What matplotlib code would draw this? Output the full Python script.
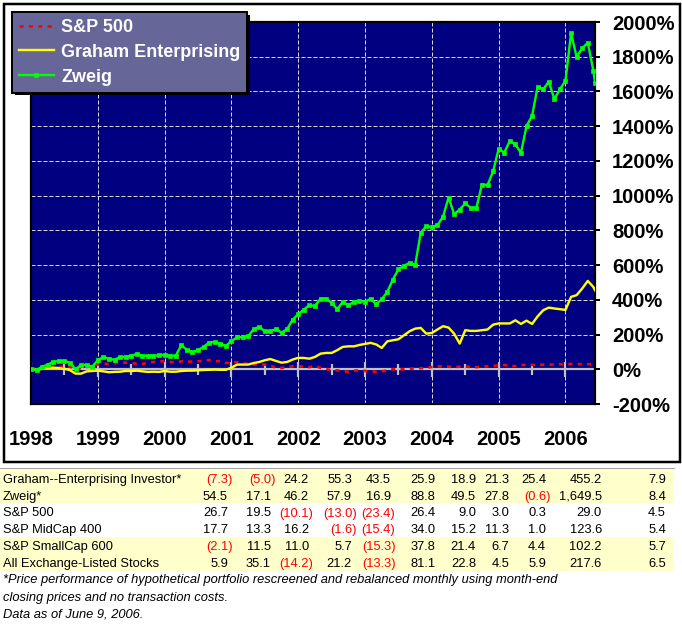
import numpy as np
import matplotlib
matplotlib.use('Agg')
import matplotlib.pyplot as plt
from matplotlib.patches import Rectangle
from matplotlib.lines import Line2D
from matplotlib.transforms import IdentityTransform

W, H, DPI = 682, 627, 100
plt.rcParams['font.family'] = ['Liberation Sans', 'DejaVu Sans']

# month index: 0 = Dec 1997, last point = June 9, 2006
months = np.append(np.arange(102), 101.3)

# cumulative price performance (%)
graham = [0, -5, 3, 7, 9, 7, 3, -5, -25, -25, -12, -10,
          -8, -12, -17, -15, -14, -10, -10, -8, -12, -15, -14, -15,
          -10, -14, -14, -10, -8, -8, -6, -4, -3, -2, -3, -3,
          9, 27, 27, 27, 36, 42, 52, 59, 48, 38, 42, 56,
          66, 65, 61, 71, 90, 94, 94, 110, 129, 132, 132, 140,
          146, 152, 143, 123, 161, 167, 173, 196, 219, 234, 238, 205,
          209, 229, 248, 240, 205, 148, 225, 221, 221, 225, 229, 257,
          264, 264, 264, 282, 261, 280, 261, 305, 340, 355, 350, 346,
          342, 417, 427, 465, 509, 474, 455]
zweig = [0, -5, 15, 27, 42, 48, 48, 38, 0, 25, 25, 15,
         52, 71, 61, 54, 71, 71, 78, 88, 78, 78, 78, 80,
         84, 78, 78, 138, 112, 98, 110, 129, 154, 156, 148, 134,
         163, 183, 186, 190, 231, 244, 219, 219, 231, 211, 231, 286,
         317, 344, 369, 365, 407, 407, 382, 346, 388, 369, 388, 394,
         388, 407, 375, 403, 446, 517, 576, 596, 613, 600, 786, 824,
         820, 830, 878, 989, 893, 920, 955, 930, 930, 1064, 1060, 1140,
         1270, 1247, 1316, 1295, 1247, 1400, 1460, 1627, 1612, 1656, 1556, 1612,
         1662, 1935, 1800, 1848, 1881, 1720, 1650]
sp500 = [0, 5, 10, 14, 15, 13, 17, 15, 0, 6, 13, 20,
         27, 31, 31, 35, 38, 38, 36, 32, 31, 38, 42, 44,
         48, 42, 38, 46, 44, 44, 46, 48, 54, 46, 48, 36,
         38, 42, 36, 30, 27, 27, 27, 22, 8, 8, 12, 17,
         18, 14, 12, 19, 8, 2, -6, -6, -10, -15, -8, -6,
         -10, -12, -15, -12, -6, 0, 0, 0, 2, 6, 6, 8,
         13, 17, 17, 15, 12, 15, 17, 12, 12, 15, 17, 20,
         22, 25, 20, 18, 25, 25, 25, 26, 26, 27, 27, 29,
         29, 31, 30, 29, 29, 30, 29]

years = [1998, 1999, 2000, 2001, 2002, 2003, 2004, 2005, 2006]
half_years = [1998.5, 1999.5, 2000.5, 2001.5, 2002.5, 2003.5, 2004.5, 2005.5]
y_ticks = [-200, 0, 200, 400, 600, 800, 1000, 1200, 1400, 1600, 1800, 2000]

# table: annual returns 1998..2006 YTD, cumulative, last column
row_names = ['Graham--Enterprising Investor*', 'Zweig*', 'S&P 500',
             'S&P MidCap 400', 'S&P SmallCap 600', 'All Exchange-Listed Stocks']
graham_row = [-7.3, -5.0, 24.2, 55.3, 43.5, 25.9, 18.9, 21.3, 25.4, 455.2, 7.9]
zweig_row = [54.5, 17.1, 46.2, 57.9, 16.9, 88.8, 49.5, 27.8, -0.6, 1649.5, 8.4]
sp500_row = [26.7, 19.5, -10.1, -13.0, -23.4, 26.4, 9.0, 3.0, 0.3, 29.0, 4.5]
midcap_row = [17.7, 13.3, 16.2, -1.6, -15.4, 34.0, 15.2, 11.3, 1.0, 123.6, 5.4]
smallcap_row = [-2.1, 11.5, 11.0, 5.7, -15.3, 37.8, 21.4, 6.7, 4.4, 102.2, 5.7]
allstocks_row = [5.9, 35.1, -14.2, 21.2, -13.3, 81.1, 22.8, 4.5, 5.9, 217.6, 6.5]
table_rows = [graham_row, zweig_row, sp500_row, midcap_row, smallcap_row, allstocks_row]
footnote = ['*Price performance of hypothetical portfolio rescreened and rebalanced monthly using month-end',
            'closing prices and no transaction costs.',
            'Data as of June 9, 2006.']

# layout (pixels)
col_right = [228, 271, 309, 352, 391, 435.5, 476, 509.5, 546, 602, 666]
row_base = [482.7, 499.8, 516.5, 533.3, 550.2, 567.3]
foot_base = [583.3, 600.7, 617.7]
px = 0.72  # one pixel in points


def fx(x):
    return x / W


def fy(y):
    return 1 - y / H


fig = plt.figure(figsize=(W / DPI, H / DPI), dpi=DPI)
fig.patch.set_facecolor('white')

ax = fig.add_axes([fx(31), fy(404), 564 / W, 382 / H])
ax.set_facecolor('#000080')

x = 1998 + months / 12
ax.plot(x, sp500, color='#FF0000', lw=2.6 * px, dashes=(1.6, 2.0), label='S&P 500', zorder=3)
ax.plot(x, graham, color='#FFFF00', lw=2.4 * px, label='Graham Enterprising', zorder=4)
ax.plot(x, zweig, color='#00FF00', lw=2.4 * px, marker='s', ms=4.5 * px, mew=0.5,
        mec='#00FF00', label='Zweig', zorder=5)

# zero line with half-year tick marks
ax.axhline(0, color='#C0C0C0', lw=2.2 * px, zorder=2)
ax.vlines(years, -43, 43, color='#C0C0C0', lw=2.2 * px, zorder=2)
ax.vlines(half_years, -32, 32, color='#C0C0C0', lw=2.2 * px, zorder=2)

ax.set_xlim(1998, 1998 + 101.3 / 12)
ax.set_ylim(-200, 2000)

ax.set_xticks(years)
ax.set_xticklabels([str(y) for y in years], fontsize=14.5, fontweight='bold')
ax.tick_params(axis='x', length=0, pad=18.5)

ax.yaxis.tick_right()
ax.set_yticks(y_ticks)
ax.set_yticklabels(['{}%'.format(v) for v in y_ticks], fontsize=14.5, fontweight='bold')
ax.tick_params(axis='y', direction='out', length=5 * px, width=2 * px, pad=8.6)

ax.grid(True, color='#D8D8D8', linestyle=(0, (4, 2)), lw=px)
for s in ax.spines.values():
    s.set_linewidth(2.2 * px)
    s.set_color('black')

# legend box with solid black drop shadow
handles, labels = ax.get_legend_handles_labels()
leg = fig.legend(handles, labels, loc='upper left', bbox_to_anchor=(fx(12), fy(12)),
                 frameon=True, fancybox=False, facecolor='#666699', edgecolor='black',
                 framealpha=1, borderaxespad=0, borderpad=0.38, labelspacing=0.44,
                 handlelength=1.95, handletextpad=0.4, numpoints=1,
                 prop={'weight': 'bold', 'size': 13})
leg.get_frame().set_linewidth(2 * px)
for t in leg.get_texts():
    t.set_color('white')

fig.canvas.draw()
bb = leg.get_window_extent()
fig.add_artist(Rectangle((bb.x0 + 2.5, bb.y0 - 2.5), bb.width, bb.height,
                         transform=IdentityTransform(), facecolor='black',
                         edgecolor='none', zorder=4))

# outer frame around the chart
fig.add_artist(Rectangle((fx(4), fy(461.5)), 675.5 / W, 457.5 / H, transform=fig.transFigure,
                         fill=False, edgecolor='black', lw=2.5 * px, zorder=1))

# table bands
for top, bottom in [(468.3, 502.7), (536.7, 571)]:
    fig.add_artist(Rectangle((0, fy(bottom)), 674 / W, (bottom - top) / H,
                             transform=fig.transFigure, facecolor='#FFFFCC',
                             edgecolor='none', zorder=0.5))
fig.add_artist(Line2D([0, fx(674)], [fy(468), fy(468)], color='#A0A0A0', lw=px, zorder=0.6))

tsize = 9.3
for name, vals, yb in zip(row_names, table_rows, row_base):
    fig.text(fx(2.7), fy(yb), name, fontsize=tsize, va='baseline', ha='left')
    for v, xr in zip(vals, col_right):
        if v < 0:
            fig.text(fx(xr + 4.5), fy(yb), '({:.1f})'.format(abs(v)), fontsize=tsize,
                     va='baseline', ha='right', color='#FF0000')
        else:
            fig.text(fx(xr), fy(yb), '{:,.1f}'.format(v), fontsize=tsize,
                     va='baseline', ha='right', color='black')

for line, yb in zip(footnote, foot_base):
    fig.text(fx(2.7), fy(yb), line, fontsize=tsize, style='italic', va='baseline', ha='left')

fig.savefig('out.png', dpi=DPI)
